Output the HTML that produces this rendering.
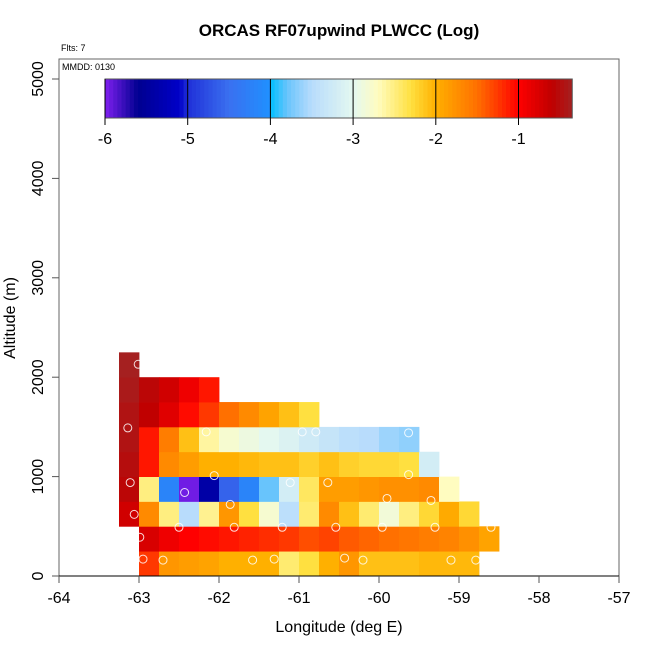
<!DOCTYPE html>
<html><head><meta charset="utf-8"><style>
body{margin:0;background:#fff}
svg{display:block;font-family:"Liberation Sans",sans-serif}
</style></head><body>
<svg id="chart" width="650" height="650" viewBox="0 0 650 650"></svg>
<script>
// Data
const rowAltBottom = [0,250,500,750,1000,1250,1500,1750,2000];
const colLonStart = -63.25;
const cellLon = 0.25, cellAlt = 250;
const row0 = [null,-1.25,-1.8,-1.85,-1.9,-2.0,-2.0,-2.0,-2.45,-2.3,-2.0,-1.8,-2.1,-2.1,-2.1,-2.05,-2.05,-2.05];
const row1 = [null,-0.75,-0.9,-1.0,-1.05,-1.1,-1.15,-1.2,-1.25,-1.35,-1.3,-1.4,-1.45,-1.5,-1.55,-1.6,-1.65,-1.75,-1.9];
const row2 = [-0.7,-1.7,-2.5,-3.5,-2.55,-1.8,-2.3,-2.8,-3.45,-2.45,-1.7,-2.1,-2.45,-2.85,-2.5,-2.25,-1.95,-2.25];
const row3 = [-0.55,-2.5,-4.2,-5.95,-5.4,-4.6,-4.2,-3.8,-3.2,-2.4,-1.85,-1.85,-1.8,-1.75,-1.75,-1.7,-2.7];
const row4 = [-0.5,-1.1,-1.7,-1.85,-2.0,-2.0,-2.05,-2.1,-2.1,-2.2,-2.1,-2.2,-2.25,-2.25,-2.3,-3.2];
const row5 = [-0.45,-1.1,-1.6,-2.1,-2.6,-2.8,-2.9,-3.0,-3.1,-3.25,-3.35,-3.45,-3.5,-3.6,-3.65];
const row6 = [-0.45,-0.6,-0.8,-1.05,-1.25,-1.5,-1.7,-1.9,-2.1,-2.3];
const row7 = [-0.4,-0.55,-0.7,-0.9,-1.1];
const row8 = [-0.35];
const rows = [row0,row1,row2,row3,row4,row5,row6,row7,row8];
const ptLon = [-63.01,-63.14,-62.16,-60.96,-60.79,-59.63,-62.06,-63.11,-62.43,-61.11,-60.64,-59.63,-61.86,-59.9,-59.35,-63.06,-62.5,-61.81,-61.21,-60.54,-59.96,-59.3,-58.6,-62.99,-62.95,-62.7,-61.58,-61.31,-60.43,-60.2,-59.1,-58.79];
const ptAlt = [2130,1490,1450,1450,1450,1440,1010,940,840,940,940,1020,720,780,760,620,490,490,490,490,490,490,490,390,170,160,160,170,180,160,160,160];
const xTicks = [-64,-63,-62,-61,-60,-59,-58,-57];
const yTicks = [0,1000,2000,3000,4000,5000];
const cbTicks = [-6,-5,-4,-3,-2,-1];

const cmapV = [-6,-5.6,-5.1,-5,-4.5,-4.01,-4,-3.8,-3.5,-3,-2.7,-2.3,-2,-1.5,-1,-0.6,-0.35];
const cmapC = ["#8020f0","#000090","#0000c8","#2030d8","#3a70f0","#2090ff","#00c0ff","#68c4fc","#b8dcfc","#e4f8f0","#fffcc0","#ffe040","#ffb000","#ff7000","#ff0000","#c00000","#a52020"];

const X0=59,X1=619,Y0=576,Y1=59;
const xs = v => X0 + (v+64)*80;
const ys = v => Y0 - v*0.0994;
const cbx = v => 105 + (v+6)*82.7;

function hex(h){return [1,3,5].map(i=>parseInt(h.substr(i,2),16));}
function color(v){
  if(v<=cmapV[0]) return cmapC[0];
  for(let i=1;i<cmapV.length;i++){
    if(v<=cmapV[i]){
      const t=(v-cmapV[i-1])/(cmapV[i]-cmapV[i-1]);
      const a=hex(cmapC[i-1]),b=hex(cmapC[i]);
      return "rgb("+a.map((x,k)=>Math.round(x+(b[k]-x)*t)).join(",")+")";
    }
  }
  return cmapC[cmapC.length-1];
}
const NS="http://www.w3.org/2000/svg";
const svg=document.getElementById("chart");
function mk(tag,attrs,parent){const e=document.createElementNS(NS,tag);for(const k in attrs)e.setAttribute(k,attrs[k]);(parent||svg).appendChild(e);return e;}

// cells
const gCells=mk("g",{});


rows.forEach((row,r)=>{
  row.forEach((v,c)=>{
    if(v===null) return;
    const lon=colLonStart+c*cellLon, alt=rowAltBottom[r];
    const x=xs(lon), y=ys(alt+cellAlt);
    const rc=mk("rect",{x:x,y:y,width:xs(lon+cellLon)-x+0.4,height:ys(alt)-y+0.4,fill:color(v)},gCells);
    
    
  });
});
// points
const gPts=mk("g",{});


ptLon.forEach((lon,i)=>{
  const c=mk("circle",{cx:xs(lon),cy:ys(ptAlt[i]),r:4,fill:"none",stroke:"#fff","stroke-width":1,"stroke-opacity":0.85},gPts);
  
  
});
// box
const box=mk("rect",{x:X0,y:Y1,width:X1-X0,height:Y0-Y1,fill:"none",stroke:"#666","stroke-width":1});


const xl=mk("line",{x1:X0,x2:X1,y1:Y0,y2:Y0,stroke:"#000","stroke-width":1});


xTicks.forEach(t=>{
  const l=mk("line",{x1:xs(t),x2:xs(t),y1:Y0,y2:Y0+7,stroke:"#555"});
  
  
  const tx=mk("text",{x:xs(t),y:Y0+27,"font-size":16,"text-anchor":"middle"});
  tx.textContent=t;
  
  
});
yTicks.forEach(t=>{
  const l=mk("line",{x1:X0-7,x2:X0,y1:ys(t),y2:ys(t),stroke:"#555"});
  
  
  const tx=mk("text",{transform:"translate(43,"+ys(t)+") rotate(-90)","font-size":16,"text-anchor":"middle"});
  tx.textContent=t;
  
  
});
// colorbar
const gCb=mk("g",{});


const cbEnd=cbx(-0.35);
for(let v=-6;v<-0.35;v+=0.05){
  const x=cbx(v);
  mk("rect",{x:x,y:79,width:Math.min(82.7*0.05+0.5,cbEnd-x),height:39,fill:color(v+0.025)},gCb);
}
mk("rect",{x:105,y:79,width:cbEnd-105,height:39,fill:"none",stroke:"#555"},gCb);
cbTicks.forEach(t=>{
  mk("line",{x1:cbx(t),x2:cbx(t),y1:79,y2:125,stroke:"#000"},gCb);
  const tx=mk("text",{x:cbx(t),y:144,"font-size":16,"text-anchor":"middle"},gCb);
  tx.textContent=t;
  
  
});
</script>
<svg width="650" height="650" style="position:absolute;left:0;top:0;font-family:'Liberation Sans',sans-serif">
<text x="339" y="36" font-size="17" font-weight="bold" text-anchor="middle">ORCAS RF07upwind PLWCC (Log)</text>
<text x="61" y="51" font-size="9">Flts: 7</text>
<text x="62" y="70" font-size="9">MMDD: 0130</text>
<text x="339" y="632" font-size="16" text-anchor="middle">Longitude (deg E)</text>
<text transform="translate(15,318) rotate(-90)" font-size="16" text-anchor="middle">Altitude (m)</text>
</svg>
</body></html>
